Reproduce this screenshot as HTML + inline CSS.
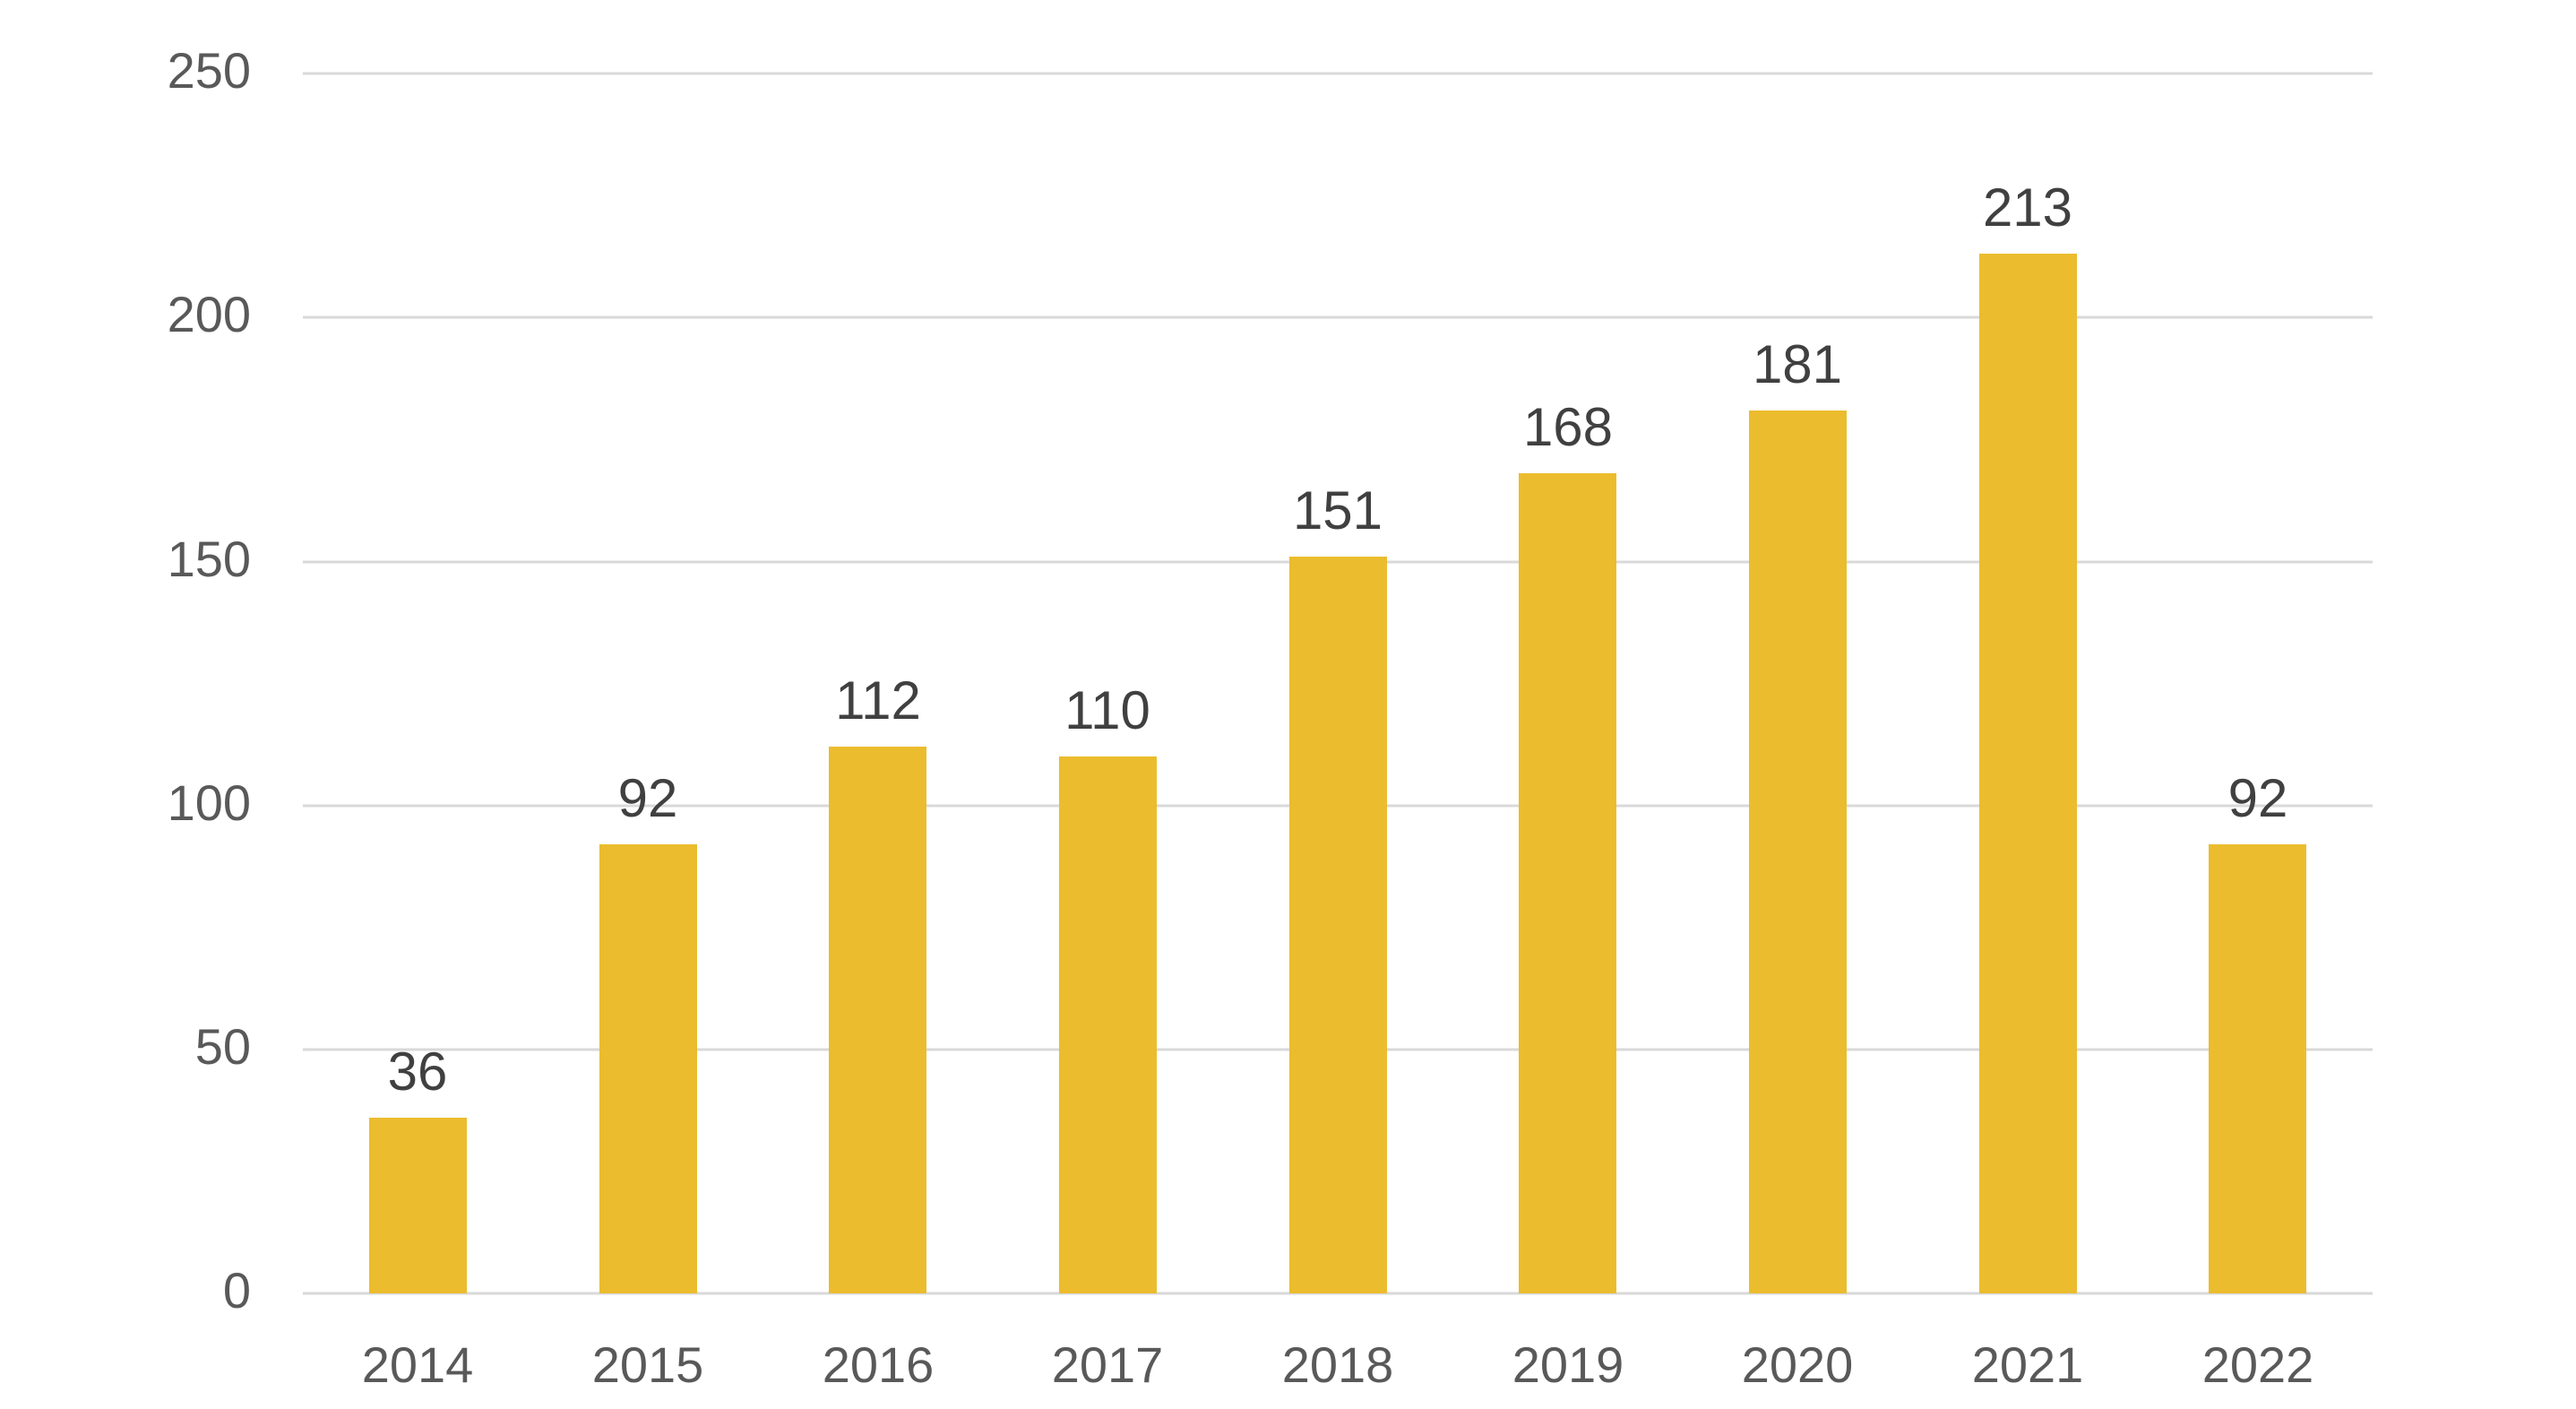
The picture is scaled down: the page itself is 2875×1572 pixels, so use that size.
<!DOCTYPE html>
<html><head><meta charset="utf-8"><style>
html,body{margin:0;padding:0;background:#fff;}
svg{display:block;}
text{font-family:"Liberation Sans",sans-serif;font-size:56px;}
.d{font-size:60px;}
</style></head><body>
<svg width="2875" height="1572" viewBox="0 0 2875 1572" xmlns="http://www.w3.org/2000/svg">
<g stroke="#d9d9d9" stroke-width="3">
<line x1="338" y1="82" x2="2648" y2="82"/>
<line x1="338" y1="354" x2="2648" y2="354"/>
<line x1="338" y1="627" x2="2648" y2="627"/>
<line x1="338" y1="899" x2="2648" y2="899"/>
<line x1="338" y1="1171" x2="2648" y2="1171"/>
<line x1="338" y1="1443" x2="2648" y2="1443"/>
</g>
<g fill="#595959" text-anchor="end">
<text x="280" y="98">250</text>
<text x="280" y="370">200</text>
<text x="280" y="643">150</text>
<text x="280" y="915">100</text>
<text x="280" y="1187">50</text>
<text x="280" y="1459">0</text>
</g>
<g fill="#ebbc2d">
<rect x="412" y="1247" width="109" height="196"/>
<rect x="669" y="942" width="109" height="501"/>
<rect x="925" y="833" width="109" height="610"/>
<rect x="1182" y="844" width="109" height="599"/>
<rect x="1439" y="621" width="109" height="822"/>
<rect x="1695" y="528" width="109" height="915"/>
<rect x="1952" y="458" width="109" height="985"/>
<rect x="2209" y="283" width="109" height="1160"/>
<rect x="2465" y="942" width="109" height="501"/>
</g>
<g fill="#404040" text-anchor="middle" class="d">
<text class="d" x="466" y="1216">36</text>
<text class="d" x="723" y="911">92</text>
<text class="d" x="980" y="802">112</text>
<text class="d" x="1236" y="813">110</text>
<text class="d" x="1493" y="590">151</text>
<text class="d" x="1750" y="497">168</text>
<text class="d" x="2006" y="427">181</text>
<text class="d" x="2263" y="252">213</text>
<text class="d" x="2520" y="911">92</text>
</g>
<g fill="#595959" text-anchor="middle">
<text x="466" y="1542">2014</text>
<text x="723" y="1542">2015</text>
<text x="980" y="1542">2016</text>
<text x="1236" y="1542">2017</text>
<text x="1493" y="1542">2018</text>
<text x="1750" y="1542">2019</text>
<text x="2006" y="1542">2020</text>
<text x="2263" y="1542">2021</text>
<text x="2520" y="1542">2022</text>
</g>
</svg>
</body></html>
